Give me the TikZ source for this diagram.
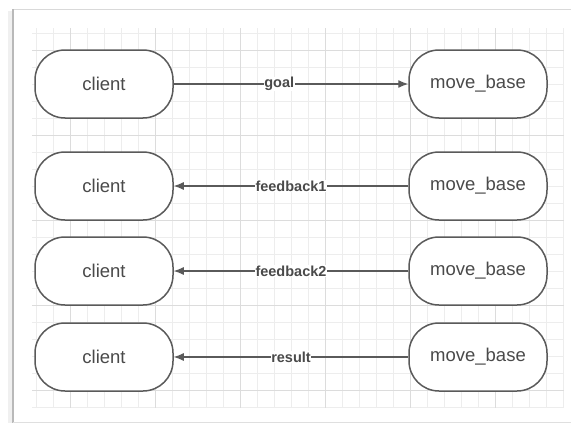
\documentclass[tikz,border=0pt]{standalone}
\usepackage{fontspec}
\setmainfont{Liberation Sans}
\usetikzlibrary{arrows.meta}

\definecolor{linegray}{HTML}{5A5A5A}
\definecolor{textgray}{HTML}{4A4A4A}
\definecolor{gridminor}{HTML}{EDEDED}
\definecolor{gridmajor}{HTML}{DCDCDC}

\begin{document}
\begin{tikzpicture}[x=1pt, y=-1pt]
	\tikzstyle{actor}=[draw=linegray, line width=1.5pt, fill=white,
		rounded corners=30pt, minimum width=138pt, minimum height=68pt,
		text=textgray, font=\fontsize{18.5}{20}\selectfont]
	\tikzstyle{msg}=[fill=white, inner sep=0.5pt, text=textgray,
		font=\bfseries\fontsize{14.5}{16}\selectfont]
	\tikzstyle{link}=[draw=linegray, line width=1.2pt,
		-{Latex[length=10pt, width=8pt]}]

	\useasboundingbox (0,0) rectangle (571,423);
	\fill[white] (0,0) rectangle (571,423);

	% frame
	\draw[gray!12, line width=4pt] (10,11) -- (10,423);
	\draw[gray!30, line width=1pt] (13,9) -- (571,9);
	\draw[gray!55, line width=1.5pt] (13,9) -- (13,423);
	\draw[gray!25, line width=1pt] (13,422) -- (571,422);

	% grid
	\foreach \x in {36,53,...,563}
		\draw[gridminor, line width=0.8pt] (\x,28) -- (\x,408);
	\foreach \y in {33,50,...,407}
		\draw[gridminor, line width=0.8pt] (32,\y) -- (564,\y);
	\foreach \x in {70,155,240,325,410,495}
		\draw[gridmajor, line width=1pt] (\x,28) -- (\x,408);
	\foreach \y in {50,135,220,305,390}
		\draw[gridmajor, line width=1pt] (32,\y) -- (564,\y);

	\node[actor] (clienta) at (104,84) {client};
	\node[actor] (basea) at (478,84) {move\_base};
	\node[actor] (clientb) at (104,186) {client};
	\node[actor] (baseb) at (478,186) {move\_base};
	\node[actor] (clientc) at (104,271) {client};
	\node[actor] (basec) at (478,271) {move\_base};
	\node[actor] (clientd) at (104,357) {client};
	\node[actor] (based) at (478,357) {move\_base};

	\draw[link] (clienta) -- node[msg, pos=.45] {goal} (basea);
	\draw[link] (baseb) -- node[msg] {feedback1} (clientb);
	\draw[link] (basec) -- node[msg] {feedback2} (clientc);
	\draw[link] (based) -- node[msg] {result} (clientd);
\end{tikzpicture}
\end{document}
